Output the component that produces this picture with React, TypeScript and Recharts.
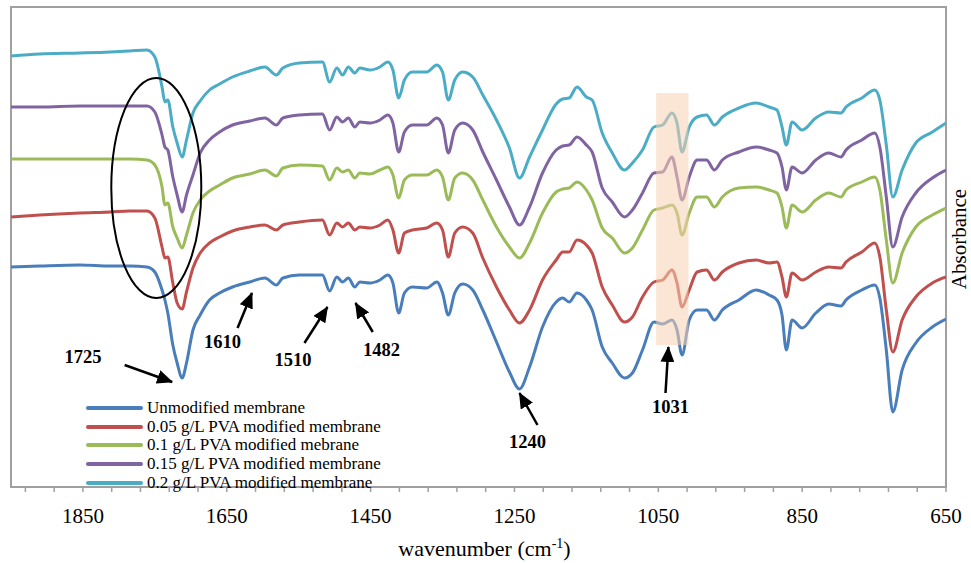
import React from 'react';
import { LineChart, Line, XAxis, YAxis, Legend, ReferenceArea, ReferenceLine, ReferenceDot } from 'recharts';

const SERIF = "'Times New Roman', 'Liberation Serif', serif";

// wavenumber (cm-1)
const wavenumbers = [
  1950, 1910, 1854, 1812, 1785, 1761, 1750, 1740, 1736, 1732,
  1725, 1719, 1712, 1706, 1697, 1687, 1674, 1660, 1642, 1618,
  1597, 1581, 1572, 1549, 1517, 1507, 1497, 1489, 1481, 1472,
  1465, 1451, 1437, 1426, 1419, 1411, 1403, 1392, 1372, 1358,
  1350, 1342, 1333, 1322, 1308, 1294, 1275, 1257, 1243, 1229,
  1211, 1192, 1183, 1174, 1163, 1150, 1142, 1128, 1114, 1097,
  1086, 1072, 1056, 1044, 1031, 1024, 1017, 1007, 996, 983,
  972, 961, 938, 914, 896, 885, 878, 872, 864, 850,
  831, 813, 796, 789, 767, 749, 742, 733, 724, 711,
  692, 669, 650,
];

// absorbance (arbitrary units, stacked spectra)
const unmodified = [
  220, 221, 222, 221, 221, 220, 215, 197, 187, 174,
  142, 124, 109, 124, 157, 172, 187, 194, 200, 205,
  209, 202, 209, 212, 212, 196, 210, 205, 209, 200,
  205, 204, 207, 212, 204, 174, 194, 200, 199, 205,
  194, 172, 194, 203, 197, 177, 145, 115, 98, 120,
  160, 185, 189, 185, 194, 187, 177, 140, 124, 109,
  114, 137, 165, 163, 167, 157, 132, 167, 177, 177,
  167, 177, 187, 197, 192, 187, 172, 137, 167, 159,
  174, 183, 181, 187, 197, 202, 189, 137, 75, 117,
  144, 160, 168,
];
const pva005 = [
  270, 272, 274, 275, 276, 276, 269, 240, 229, 230,
  204, 184, 178, 195, 219, 234, 244, 250, 256, 260,
  262, 257, 262, 265, 267, 252, 264, 260, 264, 257,
  260, 259, 262, 267, 257, 234, 254, 257, 259, 264,
  257, 230, 254, 260, 254, 229, 200, 177, 164, 177,
  207, 227, 235, 235, 247, 242, 234, 200, 182, 165,
  170, 190, 205, 207, 217, 204, 180, 197, 215, 217,
  207, 215, 224, 227, 224, 225, 210, 190, 214, 207,
  215, 220, 219, 225, 235, 244, 230, 177, 135, 167,
  190, 204, 210,
];
const pva01 = [
  328, 328, 328, 328, 328, 327, 322, 300, 282, 284,
  260, 249, 239, 252, 274, 287, 296, 302, 309, 313,
  317, 311, 319, 322, 321, 307, 319, 315, 317, 309,
  314, 313, 317, 320, 312, 289, 307, 312, 312, 317,
  310, 287, 309, 314, 307, 287, 260, 240, 229, 244,
  274, 295, 298, 299, 305, 297, 287, 259, 249, 234,
  239, 257, 277, 279, 282, 274, 252, 274, 290, 290,
  280, 290, 299, 300, 297, 294, 280, 259, 282, 275,
  287, 294, 290, 297, 305, 310, 297, 247, 204, 234,
  260, 272, 279,
];
const pva015 = [
  380, 380, 381, 381, 381, 381, 375, 352, 340, 337,
  310, 292, 275, 292, 312, 334, 347, 355, 362, 366,
  369, 362, 369, 372, 373, 357, 370, 365, 369, 360,
  365, 364, 367, 372, 364, 335, 355, 362, 362, 369,
  362, 334, 357, 364, 357, 335, 307, 280, 262, 280,
  314, 337, 341, 342, 350, 342, 335, 299, 285, 270,
  277, 294, 314, 315, 330, 310, 287, 310, 327, 327,
  317, 327, 335, 340, 337, 334, 320, 297, 320, 314,
  327, 334, 330, 337, 347, 354, 340, 290, 240, 270,
  294, 309, 317,
];
const pva02 = [
  431, 433, 434, 435, 436, 437, 430, 400, 385, 387,
  360, 344, 330, 347, 374, 386, 397, 403, 410, 416,
  420, 412, 419, 424, 425, 405, 419, 412, 420, 414,
  419, 417, 420, 425, 417, 389, 407, 415, 415, 422,
  415, 387, 407, 415, 410, 392, 367, 339, 309, 330,
  357, 383, 388, 389, 400, 390, 387, 354, 334, 317,
  324, 337, 360, 362, 374, 364, 335, 360, 370, 372,
  362, 370, 379, 384, 380, 377, 360, 342, 365, 357,
  369, 375, 374, 380, 389, 397, 387, 342, 290, 317,
  344, 355, 364,
];

const seriesKeys = ['s0', 's1', 's2', 's3', 's4'];
const seriesNames = [
  'Unmodified membrane',
  '0.05 g/L PVA modified membrane',
  '0.1 g/L PVA modified mebrane',
  '0.15 g/L PVA modified membrane',
  '0.2 g/L PVA modified membrane',
];
const seriesColors = ['#4a7ebb', '#c0504d', '#9bbb59', '#8064a2', '#4bacc6'];
const seriesValues = [unmodified, pva005, pva01, pva015, pva02];

const xTicks = [
  1930, 1890, 1850, 1810, 1770, 1730, 1690, 1650, 1610, 1570, 1530,
  1490, 1450, 1410, 1370, 1330, 1290, 1250, 1210, 1170, 1130, 1090,
  1050, 1010, 970, 930, 890, 850, 810, 770, 730, 690, 650,
];
const xTickLabels = [1850, 1650, 1450, 1250, 1050, 850, 650];

// peak annotations: label position, arrow tail and tip (data coordinates)
const peakLabels = ['1725', '1610', '1510', '1482', '1240', '1031'];
const labelPos = [[1850, 130], [1656, 145], [1558, 127], [1435, 137], [1232, 45], [1033, 80]];
const arrowTail = [[1792, 122], [1635, 159], [1542, 144], [1447, 155], [1218, 62], [1040, 94]];
const arrowTip = [[1726, 105], [1615, 194], [1510, 180], [1471, 184], [1243, 94], [1036, 140]];

const highlightBand = { x1: 1053, x2: 1008, y1: 142, y2: 394 };
const ellipseCenter = { x: 1748, y: 299 };

const data = wavenumbers.map((w, i) => {
  const row: any = { w };
  seriesKeys.forEach((k, j) => {
    row[k] = seriesValues[j][i];
  });
  return row;
});

const XTick = (props: any) => {
  const { x, y, payload } = props;
  const major = xTickLabels.includes(payload.value);
  return (
    <g>
      <line x1={x} x2={x} y1={y} y2={y + 5} stroke="#a0a0a0" strokeWidth={1.5} />
      {major && (
        <text x={x} y={y + 36} textAnchor="middle" fontFamily={SERIF} fontSize={21} fill="#000">
          {payload.value}
        </text>
      )}
    </g>
  );
};

const renderXTitle = (props: any) => {
  const vb = props.viewBox || { x: 0, y: 0, width: 0, height: 0 };
  const cx = vb.x + vb.width / 2 + 6;
  return (
    <text x={cx} y={vb.y + vb.height - 7} textAnchor="middle" fontFamily={SERIF} fontSize={22} fill="#000">
      wavenumber (cm
      <tspan fontSize={14} dy={-8}>-1</tspan>
      <tspan dy={8}>)</tspan>
    </text>
  );
};

const renderYTitle = (props: any) => {
  const vb = props.viewBox || { x: 0, y: 0, width: 0, height: 0 };
  const x = vb.x + 20;
  const y = vb.y + vb.height / 2 - 8;
  return (
    <text x={x} y={y} transform={`rotate(-90, ${x}, ${y})`} textAnchor="middle" fontFamily={SERIF} fontSize={21} fill="#000">
      Absorbance
    </text>
  );
};

const renderLegend = (props: any) => {
  const payload = [...(props.payload || [])].sort(
    (a: any, b: any) => seriesNames.indexOf(a.value) - seriesNames.indexOf(b.value)
  );
  return (
    <div style={{ fontFamily: SERIF, fontSize: 17, color: '#000' }}>
      {payload.map((e: any) => (
        <div key={e.value} style={{ display: 'flex', alignItems: 'center', height: 18.75, whiteSpace: 'nowrap' }}>
          <span style={{ display: 'inline-block', width: 57, height: 4, background: e.color, marginRight: 4, borderRadius: 2 }} />
          <span>{e.value}</span>
        </div>
      ))}
    </div>
  );
};

const PeakText = (label: string) => (p: any) => (
  <text x={p.cx} y={p.cy} textAnchor="middle" dominantBaseline="central" fontFamily={SERIF} fontWeight="bold" fontSize={18.5} fill="#000">
    {label}
  </text>
);

const EllipseShape = (p: any) => (
  <ellipse cx={p.cx} cy={p.cy} rx={45} ry={110} fill="none" stroke="#000" strokeWidth={2} />
);

export default function App() {
  return (
    <div style={{ position: 'absolute', left: 0, top: 0, background: '#fff' }}>
      <LineChart width={971} height={563} data={data} margin={{ top: 7, right: 0, left: 11, bottom: 0 }}>
        <defs>
          <marker id="arrowHead" markerUnits="userSpaceOnUse" markerWidth={17} markerHeight={14} refX={15} refY={7} orient="auto">
            <path d="M0,0 L16,7 L0,14 z" fill="#000" />
          </marker>
        </defs>
        <XAxis
          dataKey="w"
          type="number"
          domain={[650, 1950]}
          reversed
          allowDataOverflow
          ticks={xTicks}
          interval={0}
          tick={<XTick />}
          tickLine={false}
          axisLine={false}
          tickSize={0}
          tickMargin={0}
          height={76}
          label={{ content: renderXTitle }}
        />
        <YAxis
          orientation="right"
          type="number"
          domain={[0, 480]}
          allowDataOverflow
          width={25}
          tick={false}
          tickLine={false}
          axisLine={false}
          label={{ content: renderYTitle }}
        />
        <ReferenceArea x1={1950} x2={650} y1={0} y2={480} fill="none" stroke="#a0a0a0" strokeWidth={2} />
        {seriesKeys.map((k, j) => (
          <Line
            key={k}
            dataKey={k}
            name={seriesNames[j]}
            stroke={seriesColors[j]}
            strokeWidth={3}
            type="monotone"
            dot={false}
            activeDot={false}
            isAnimationActive={false}
          />
        ))}
        <ReferenceArea
          x1={highlightBand.x1}
          x2={highlightBand.x2}
          y1={highlightBand.y1}
          y2={highlightBand.y2}
          fill="#f8cfb0"
          fillOpacity={0.55}
          stroke="none"
          zIndex={1000}
        />
        <ReferenceDot x={ellipseCenter.x} y={ellipseCenter.y} r={1} shape={EllipseShape} />
        {peakLabels.map((lab, i) => (
          <ReferenceLine
            key={'a' + lab}
            segment={[
              { x: arrowTail[i][0], y: arrowTail[i][1] },
              { x: arrowTip[i][0], y: arrowTip[i][1] },
            ]}
            stroke="#000"
            strokeWidth={2.5}
            markerEnd="url(#arrowHead)"
          />
        ))}
        {peakLabels.map((lab, i) => (
          <ReferenceDot key={'t' + lab} x={labelPos[i][0]} y={labelPos[i][1]} r={1} shape={PeakText(lab)} />
        ))}
        <Legend
          layout="vertical"
          align="center"
          verticalAlign="middle"
          content={renderLegend}
          wrapperStyle={{ position: 'absolute', left: 86, top: 398.5, width: 340, height: 95 }}
        />
      </LineChart>
    </div>
  );
}
